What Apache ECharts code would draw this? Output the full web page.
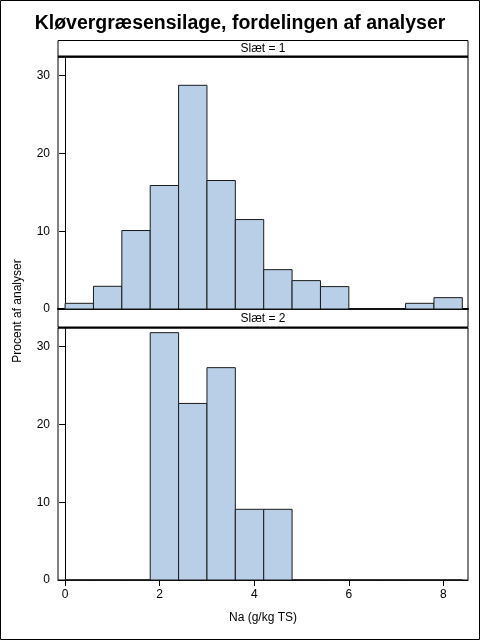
<!DOCTYPE html>
<html>
<head>
<meta charset="utf-8">
<script src="https://cdn.jsdelivr.net/npm/echarts@6/dist/echarts.min.js"></script>
<style>
html,body{margin:0;padding:0;background:#fff;}
#chart{width:480px;height:640px;}
</style>
</head>
<body>
<div id="chart"></div>
<script>
const titleText = 'Kløvergræsensilage, fordelingen af analyser';
const panelLabels = ['Slæt = 1', 'Slæt = 2'];
const binEdges = [0, 0.6, 1.2, 1.8, 2.4, 3.0, 3.6, 4.2, 4.8, 5.4, 6.0, 6.6, 7.2, 7.8, 8.4];
const slaet1 = [0.73, 2.92, 10.09, 15.88, 28.76, 16.52, 11.5, 5.06, 3.65, 2.88, 0, 0, 0.73, 1.46];
const slaet2 = [0, 0, 0, 31.8, 22.7, 27.3, 9.09, 9.09, 0, 0, 0, 0, 0, 0];
const xTicks = [0, 2, 4, 6, 8];
const yTicks = [0, 10, 20, 30];
const xAxisTitle = 'Na (g/kg TS)';
const yAxisTitle = 'Procent af analyser';

function toBins(vals) {
  return vals.map((v, i) => [binEdges[i], binEdges[i + 1], v]);
}

const FONT = 'Liberation Sans, Arial, sans-serif';
const FILL = '#B9CFE7';

function renderItem(params, api) {
  const x0 = api.value(0), x1 = api.value(1), v = api.value(2);
  const p0 = api.coord([x0, v]);
  const p1 = api.coord([x1, 0]);
  return {
    type: 'rect',
    shape: { x: p0[0], y: p0[1], width: p1[0] - p0[0], height: p1[1] - p0[1] },
    style: { fill: v > 0 ? FILL : 'none', stroke: '#1a1a1a', lineWidth: 1 }
  };
}

const chart = echarts.init(document.getElementById('chart'), null, { renderer: 'canvas' });

const xMin = -0.15, xMax = 8.52, yMax = 32.4;
const L = 58, R = 12, W = 480 - L - R;

function yAxisDef(idx) {
  return {
    gridIndex: idx, type: 'value', min: 0, max: yMax,
    splitLine: { show: false },
    axisLine: { show: true, lineStyle: { color: '#000', width: 1 } },
    axisTick: { show: true, length: 6, customValues: yTicks, lineStyle: { color: '#000' } },
    axisLabel: { customValues: yTicks, color: '#000', fontFamily: FONT, fontSize: 12, margin: 8 }
  };
}

chart.setOption({
  animation: false,
  backgroundColor: '#fff',
  title: {
    text: titleText, left: 'center', top: 9,
    textStyle: { fontFamily: FONT, fontWeight: 'bold', fontSize: 19.5, color: '#000' }
  },
  grid: [
    { left: L, right: R, top: 57, height: 252, show: true, borderColor: '#000', borderWidth: 1, backgroundColor: 'transparent' },
    { left: L, right: R, top: 328, height: 252, show: true, borderColor: '#000', borderWidth: 1, backgroundColor: 'transparent' }
  ],
  xAxis: [
    {
      gridIndex: 0, type: 'value', min: xMin, max: xMax,
      splitLine: { show: false },
      axisLine: { show: true, onZero: false, lineStyle: { color: '#000', width: 2 } },
      axisTick: { show: false }, axisLabel: { show: false }
    },
    {
      gridIndex: 1, type: 'value', min: xMin, max: xMax,
      splitLine: { show: false },
      axisLine: { show: true, onZero: false, lineStyle: { color: '#000', width: 1 } },
      axisTick: { show: true, length: 6, customValues: xTicks, lineStyle: { color: '#000' } },
      axisLabel: { customValues: xTicks, color: '#000', fontFamily: FONT, fontSize: 12, margin: 9 },
      name: xAxisTitle, nameLocation: 'middle', nameGap: 32,
      nameTextStyle: { fontFamily: FONT, fontSize: 12, color: '#000' }
    }
  ],
  yAxis: [yAxisDef(0), yAxisDef(1)],
  series: [
    { type: 'custom', xAxisIndex: 0, yAxisIndex: 0, renderItem, encode: { x: [0, 1], y: 2 }, data: toBins(slaet1) },
    { type: 'custom', xAxisIndex: 1, yAxisIndex: 1, renderItem, encode: { x: [0, 1], y: 2 }, data: toBins(slaet2) }
  ],
  graphic: [
    { type: 'rect', shape: { x: 0.5, y: 0.5, width: 479, height: 639 }, style: { fill: 'none', stroke: '#000', lineWidth: 1 }, z: 100 },
    { type: 'rect', shape: { x: L, y: 40.5, width: W, height: 16.5 }, style: { fill: '#fff', stroke: '#000', lineWidth: 1 } },
    { type: 'line', shape: { x1: L, y1: 56.5, x2: L + W, y2: 56.5 }, style: { stroke: '#000', lineWidth: 2 } },
    { type: 'text', x: L + W / 2, y: 48.5, style: { text: panelLabels[0], fontFamily: FONT, fontSize: 12, fill: '#000', textAlign: 'center', textVerticalAlign: 'middle' } },
    { type: 'rect', shape: { x: L, y: 309.5, width: W, height: 18 }, style: { fill: '#fff', stroke: '#000', lineWidth: 1 } },
    { type: 'line', shape: { x1: L, y1: 309, x2: L + W, y2: 309 }, style: { stroke: '#000', lineWidth: 2 } },
    { type: 'line', shape: { x1: L, y1: 327.5, x2: L + W, y2: 327.5 }, style: { stroke: '#000', lineWidth: 2 } },
    { type: 'text', x: L + W / 2, y: 318.5, style: { text: panelLabels[1], fontFamily: FONT, fontSize: 12, fill: '#000', textAlign: 'center', textVerticalAlign: 'middle' } },
    { type: 'text', x: 18, y: 311, rotation: Math.PI / 2, style: { text: yAxisTitle, fontFamily: FONT, fontSize: 12, fill: '#000', textAlign: 'center', textVerticalAlign: 'middle' } }
  ]
});
</script>
</body>
</html>
